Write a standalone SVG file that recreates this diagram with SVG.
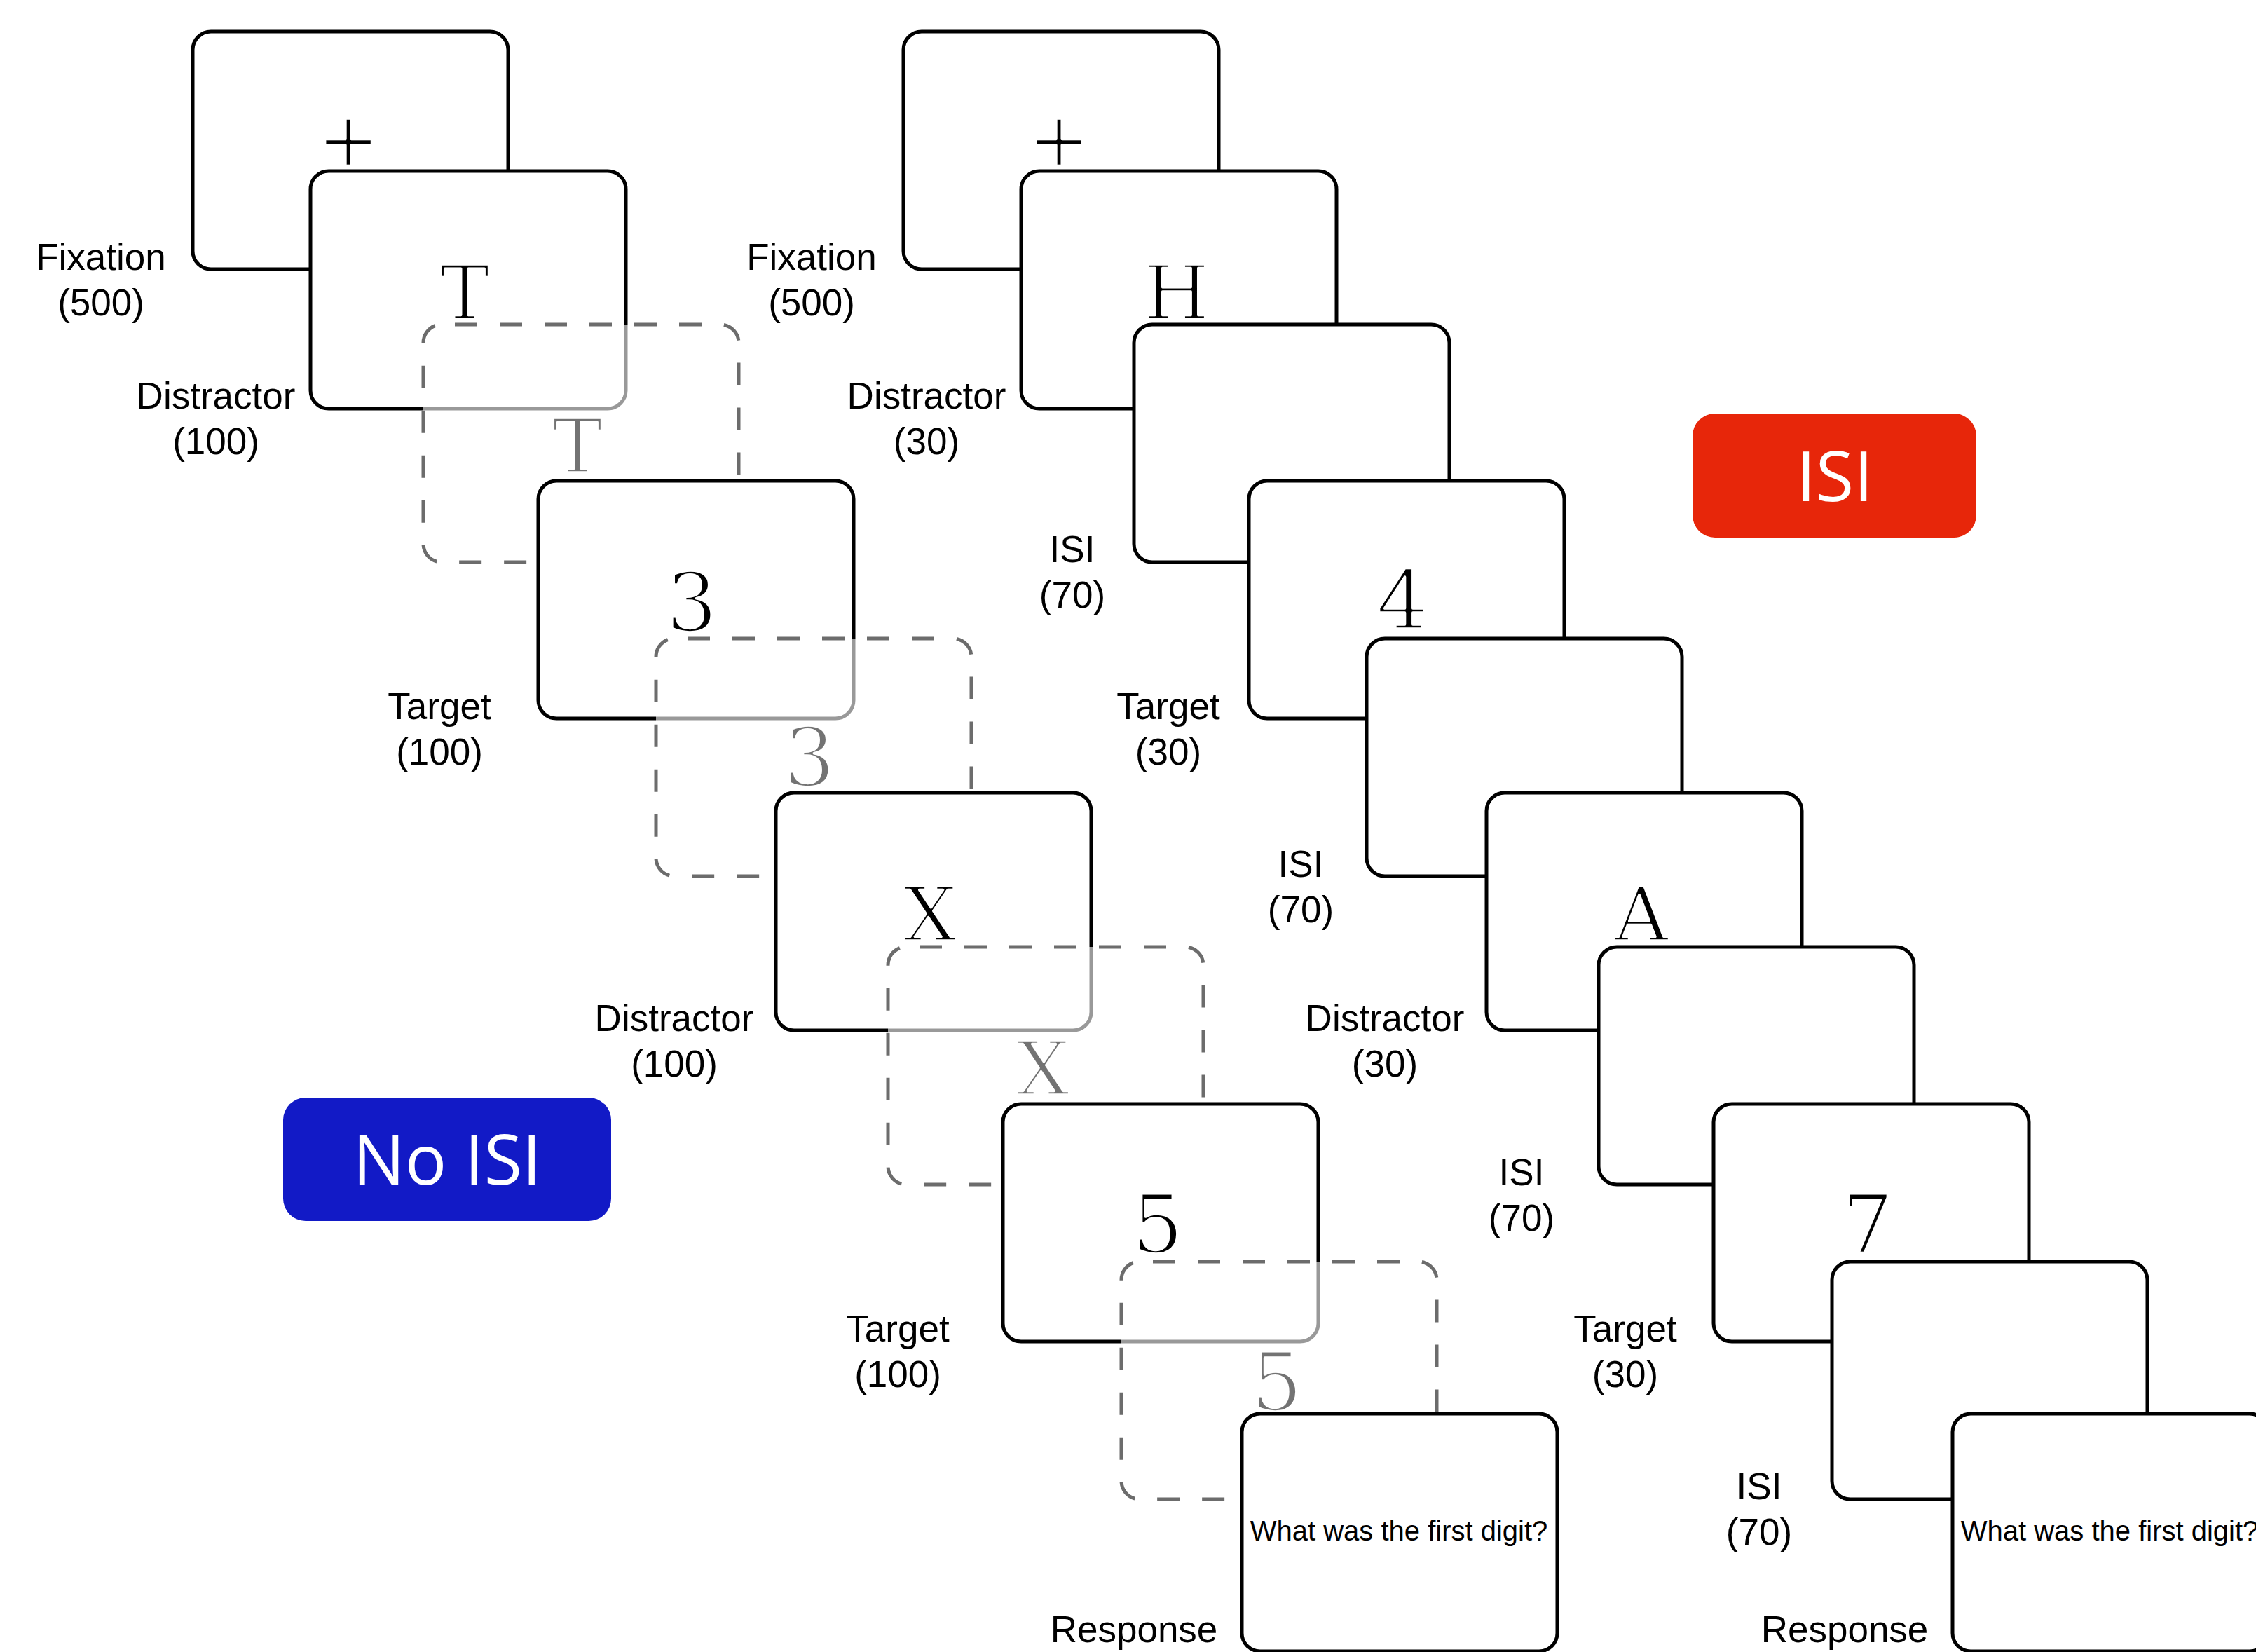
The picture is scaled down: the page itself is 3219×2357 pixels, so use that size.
<svg xmlns="http://www.w3.org/2000/svg" width="3219" height="2357" viewBox="0 0 3219 2357">
<style>
  .box{fill:#fff;stroke:#000;stroke-width:5}
  .mask{fill:#fff;fill-opacity:0.6;stroke:#6c6c6c;stroke-width:5;stroke-dasharray:32 32;stroke-dashoffset:45}
  .lbl{font-family:"Liberation Sans",Arial,sans-serif;font-size:53px;fill:#000;text-anchor:middle}
  .stim{font-family:"DejaVu Serif",serif;font-size:107px;fill:#000;text-anchor:middle;stroke:#fff;stroke-width:3.5;stroke-linejoin:round}
  .dig{font-size:116px}
  .ghost{fill:#737373}
  .q{font-family:"Liberation Sans",Arial,sans-serif;font-size:40px;fill:#000;text-anchor:middle}
  .badge{font-family:"Open Sans","Noto Sans",sans-serif;font-size:99px;fill:#fff;text-anchor:middle}
</style>
<rect width="3219" height="2357" fill="#fff"/>

<!-- No ISI condition -->
<g id="L1"><rect class="box" x="275" y="45" width="450" height="339" rx="26"/><text class="stim" x="497" y="236">+</text></g>
<g id="L2"><rect class="box" x="443" y="244" width="450" height="339" rx="26"/><text class="stim" x="663" y="455">T</text></g>
<g id="L3"><rect class="mask" x="604" y="463" width="450" height="339" rx="26"/><text class="stim ghost" x="824" y="674">T</text></g>
<g id="L4"><rect class="box" x="768" y="686" width="450" height="339" rx="26"/><text class="stim dig" x="987" y="900">3</text></g>
<g id="L5"><rect class="mask" x="936" y="911" width="450" height="339" rx="26"/><text class="stim dig ghost" x="1155" y="1121">3</text></g>
<g id="L6"><rect class="box" x="1107" y="1131" width="450" height="339" rx="26"/><text class="stim" x="1327" y="1342">X</text></g>
<g id="L7"><rect class="mask" x="1267" y="1351" width="450" height="339" rx="26"/><text class="stim ghost" x="1488" y="1562">X</text></g>
<g id="L8"><rect class="box" x="1431" y="1575" width="450" height="339" rx="26"/><text class="stim dig" x="1652" y="1787">5</text></g>
<g id="L9"><rect class="mask" x="1600" y="1800" width="450" height="339" rx="26"/><text class="stim dig ghost" x="1822" y="2012">5</text></g>
<g id="L10"><rect class="box" x="1772" y="2017" width="450" height="339" rx="26"/><text class="q" x="1996" y="2198">What was the first digit?</text></g>

<!-- ISI condition -->
<g id="R1"><rect class="box" x="1289" y="45" width="450" height="339" rx="26"/><text class="stim" x="1511" y="236">+</text></g>
<g id="R2"><rect class="box" x="1457" y="244" width="450" height="339" rx="26"/><text class="stim" x="1679" y="455">H</text></g>
<g id="R3"><rect class="box" x="1618" y="463" width="450" height="339" rx="26"/></g>
<g id="R4"><rect class="box" x="1782" y="686" width="450" height="339" rx="26"/><text class="stim dig" x="2001" y="897">4</text></g>
<g id="R5"><rect class="box" x="1950" y="911" width="450" height="339" rx="26"/></g>
<g id="R6"><rect class="box" x="2121" y="1131" width="450" height="339" rx="26"/><text class="stim" x="2342" y="1342">A</text></g>
<g id="R7"><rect class="box" x="2281" y="1351" width="450" height="339" rx="26"/></g>
<g id="R8"><rect class="box" x="2445" y="1575" width="450" height="339" rx="26"/><text class="stim dig" x="2665" y="1787">7</text></g>
<g id="R9"><rect class="box" x="2614" y="1800" width="450" height="339" rx="26"/></g>
<g id="R10"><rect class="box" x="2786" y="2017" width="450" height="339" rx="26"/><text class="q" x="3010" y="2198">What was the first digit?</text></g>

<!-- Labels -->
<g id="labels-noisi">
  <text class="lbl" x="144" y="385">Fixation</text><text class="lbl" x="144" y="450">(500)</text>
  <text class="lbl" x="308" y="583">Distractor</text><text class="lbl" x="308" y="648">(100)</text>
  <text class="lbl" x="627" y="1026">Target</text><text class="lbl" x="627" y="1091">(100)</text>
  <text class="lbl" x="962" y="1471">Distractor</text><text class="lbl" x="962" y="1536">(100)</text>
  <text class="lbl" x="1281" y="1914">Target</text><text class="lbl" x="1281" y="1979">(100)</text>
  <text class="lbl" x="1618" y="2343">Response</text>
</g>
<g id="labels-isi">
  <text class="lbl" x="1158" y="385">Fixation</text><text class="lbl" x="1158" y="450">(500)</text>
  <text class="lbl" x="1322" y="583">Distractor</text><text class="lbl" x="1322" y="648">(30)</text>
  <text class="lbl" x="1530" y="802">ISI</text><text class="lbl" x="1530" y="867">(70)</text>
  <text class="lbl" x="1667" y="1026">Target</text><text class="lbl" x="1667" y="1091">(30)</text>
  <text class="lbl" x="1856" y="1251">ISI</text><text class="lbl" x="1856" y="1316">(70)</text>
  <text class="lbl" x="1976" y="1471">Distractor</text><text class="lbl" x="1976" y="1536">(30)</text>
  <text class="lbl" x="2171" y="1691">ISI</text><text class="lbl" x="2171" y="1756">(70)</text>
  <text class="lbl" x="2319" y="1914">Target</text><text class="lbl" x="2319" y="1979">(30)</text>
  <text class="lbl" x="2510" y="2139">ISI</text><text class="lbl" x="2510" y="2204">(70)</text>
  <text class="lbl" x="2632" y="2343">Response</text>
</g>

<!-- Condition badges -->
<g id="badge-noisi"><rect x="404" y="1566" width="468" height="176" rx="32" fill="#121AC6"/><text class="badge" x="638" y="1690">No ISI</text></g>
<g id="badge-isi"><rect x="2415" y="590" width="405" height="177" rx="32" fill="#E7260A"/><text class="badge" x="2618" y="715">ISI</text></g>

<g id="connectors"/>
</svg>
